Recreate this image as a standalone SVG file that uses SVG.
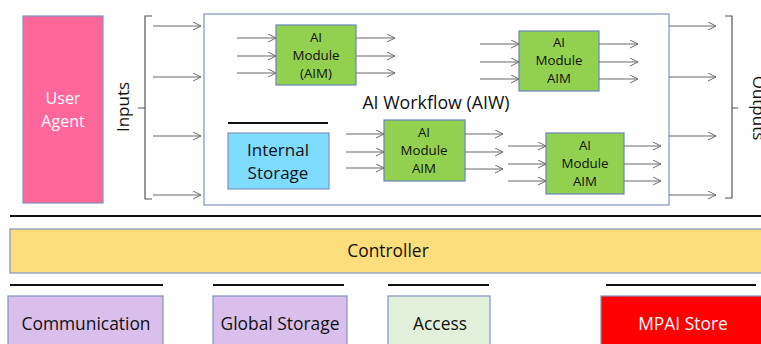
<svg xmlns="http://www.w3.org/2000/svg" width="761" height="344" viewBox="0 0 761 344">
<style>
text{font-family:"Open Sans","Noto Sans","Liberation Sans",sans-serif;fill:#111}
.aim{fill:#92D050;stroke:#6a86b8;stroke-width:1.2}
.t13{font-size:13.3px;text-anchor:middle}
.t16{font-size:16px;text-anchor:middle}
.t17{font-size:17.4px;text-anchor:middle}
.arr{stroke:#6b6b6b;stroke-width:1.1;fill:none;marker-end:url(#ah)}
.bar{stroke:#111;stroke-width:2}
.br{stroke:#555;stroke-width:1.2;fill:none}
.box{stroke:#7f93c2;stroke-width:1.2}
</style>
<defs>
<marker id="ah" viewBox="0 0 10 10" refX="9" refY="5" markerWidth="9" markerHeight="9" markerUnits="userSpaceOnUse" orient="auto">
<path d="M0,0.5 L9,5 L0,9.5" fill="none" stroke="#6b6b6b" stroke-width="1.1"/>
</marker>
</defs>
<rect width="761" height="344" fill="#fff"/>
<g id="user-agent">
<rect x="23" y="16" width="80" height="187" fill="#FF6699" class="box"/>
<text x="63" y="104" class="t16" style="fill:#fff">User</text>
<text x="63" y="127" class="t16" style="fill:#fff">Agent</text>
</g>
<g id="inputs-label">
<text transform="translate(129,107) rotate(-90)" style="font-size:17px;text-anchor:middle">Inputs</text>
<path class="br" d="M152,16 H145 V199 H152 M145,108 H138"/>
</g>
<g id="aiw">
<rect x="204" y="14" width="465" height="191" fill="#fff" class="box"/>
<text x="436" y="109" style="font-size:17.8px;text-anchor:middle">AI Workflow (AIW)</text>
</g>
<g id="aim1">
<rect x="276" y="25" width="80" height="60" class="aim"/>
<text x="316" y="42" class="t13">AI</text>
<text x="316" y="60" class="t13">Module</text>
<text x="316" y="78" class="t13">(AIM)</text>
</g>
<g id="aim2">
<rect x="519" y="31" width="80" height="60" class="aim"/>
<text x="559" y="47" class="t13">AI</text>
<text x="559" y="65" class="t13">Module</text>
<text x="559" y="83" class="t13">AIM</text>
</g>
<g id="internal-storage">
<line x1="228" y1="123" x2="328" y2="123" class="bar"/>
<rect x="228" y="133" width="101" height="56" fill="#7FDBFF" class="box"/>
<text x="278" y="156" style="font-size:17px;text-anchor:middle">Internal</text>
<text x="278" y="179" style="font-size:17px;text-anchor:middle">Storage</text>
</g>
<g id="aim3">
<rect x="384" y="120" width="81" height="61" class="aim"/>
<text x="424" y="137" class="t13">AI</text>
<text x="424" y="155" class="t13">Module</text>
<text x="424" y="173" class="t13">AIM</text>
</g>
<g id="aim4">
<rect x="546" y="133" width="78" height="61" class="aim"/>
<text x="585" y="150" class="t13">AI</text>
<text x="585" y="168" class="t13">Module</text>
<text x="585" y="186" class="t13">AIM</text>
</g>
<g id="outputs-label">
<path class="br" d="M725,16 H732 V198 H725 M732,108 H738"/>
<text transform="translate(753,108) rotate(90)" style="font-size:17px;text-anchor:middle">Outputs</text>
</g>
<g id="connectors">
<line x1="153" y1="26" x2="201" y2="26" class="arr"/>
<line x1="153" y1="77" x2="201" y2="77" class="arr"/>
<line x1="153" y1="136" x2="201" y2="136" class="arr"/>
<line x1="153" y1="195" x2="201" y2="195" class="arr"/>
<line x1="237" y1="38" x2="276" y2="38" class="arr"/>
<line x1="237" y1="56" x2="276" y2="56" class="arr"/>
<line x1="237" y1="73" x2="276" y2="73" class="arr"/>
<line x1="356" y1="38" x2="395" y2="38" class="arr"/>
<line x1="356" y1="56" x2="395" y2="56" class="arr"/>
<line x1="356" y1="73" x2="395" y2="73" class="arr"/>
<line x1="480" y1="44" x2="519" y2="44" class="arr"/>
<line x1="480" y1="62" x2="519" y2="62" class="arr"/>
<line x1="480" y1="79" x2="519" y2="79" class="arr"/>
<line x1="599" y1="44" x2="638" y2="44" class="arr"/>
<line x1="599" y1="62" x2="638" y2="62" class="arr"/>
<line x1="599" y1="79" x2="638" y2="79" class="arr"/>
<line x1="346" y1="134" x2="384" y2="134" class="arr"/>
<line x1="346" y1="152" x2="384" y2="152" class="arr"/>
<line x1="346" y1="168" x2="384" y2="168" class="arr"/>
<line x1="465" y1="134" x2="503" y2="134" class="arr"/>
<line x1="465" y1="152" x2="503" y2="152" class="arr"/>
<line x1="465" y1="169" x2="503" y2="169" class="arr"/>
<line x1="508" y1="146" x2="546" y2="146" class="arr"/>
<line x1="508" y1="164" x2="546" y2="164" class="arr"/>
<line x1="508" y1="181" x2="546" y2="181" class="arr"/>
<line x1="624" y1="146" x2="661" y2="146" class="arr"/>
<line x1="624" y1="164" x2="661" y2="164" class="arr"/>
<line x1="624" y1="181" x2="661" y2="181" class="arr"/>
<line x1="669" y1="26" x2="716" y2="26" class="arr"/>
<line x1="669" y1="77" x2="716" y2="77" class="arr"/>
<line x1="669" y1="136" x2="716" y2="136" class="arr"/>
<line x1="669" y1="195" x2="716" y2="195" class="arr"/>
</g>
<g id="controller">
<line x1="10" y1="216" x2="761" y2="216" class="bar"/>
<rect x="10" y="229" width="755" height="44" fill="#FDDE7D" class="box"/>
<text x="388" y="257" class="t17">Controller</text>
</g>
<g id="communication">
<line x1="10" y1="285" x2="163" y2="285" class="bar"/>
<rect x="8" y="296" width="155" height="52" fill="#D9BFEB" class="box"/>
<text x="86" y="330" class="t17">Communication</text>
</g>
<g id="global-storage">
<line x1="213" y1="285" x2="344" y2="285" class="bar"/>
<rect x="213" y="296" width="134" height="52" fill="#D9BFEB" class="box"/>
<text x="280" y="330" class="t17">Global Storage</text>
</g>
<g id="access">
<line x1="388" y1="285" x2="489" y2="285" class="bar"/>
<rect x="388" y="296" width="102" height="52" fill="#E2EFDA" class="box"/>
<text x="440" y="330" class="t17">Access</text>
</g>
<g id="mpai-store">
<line x1="606" y1="285" x2="756" y2="285" class="bar"/>
<rect x="601" y="296" width="165" height="52" fill="#FF0000" class="box"/>
<text x="683" y="330" class="t17" style="fill:#fff">MPAI Store</text>
</g>
</svg>
